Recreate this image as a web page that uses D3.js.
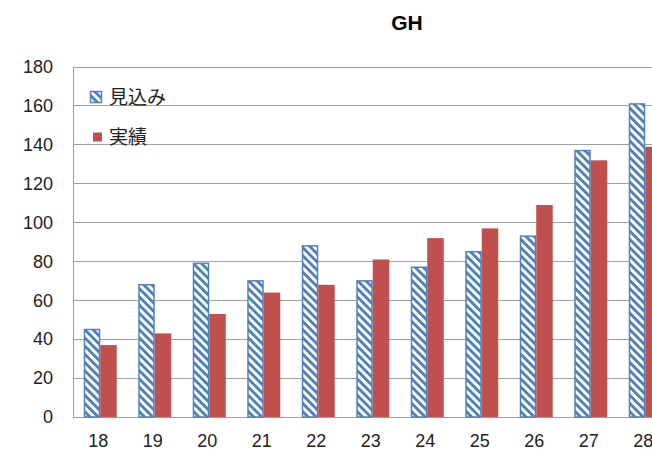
<!DOCTYPE html>
<html>
<head>
<meta charset="utf-8">
<script src="https://cdn.jsdelivr.net/npm/d3@7"></script>
<style>
  body { margin: 0; background: #fff; }
</style>
</head>
<body>
<div id="chart"></div>
<script>
const categories = ["18", "19", "20", "21", "22", "23", "24", "25", "26", "27", "28"]
const seriesNames = ["見込み", "実績"]
const mikomi = [45, 68, 79, 70, 88, 70, 77, 85, 93, 137, 161]
const jisseki = [37, 43, 53, 64, 68, 81, 92, 97, 109, 132, 139]
const yTicks = [0, 20, 40, 60, 80, 100, 120, 140, 160, 180]

const width = 652
const height = 459
const plotLeft = 73
const plotTop = 67
const plotBottom = 417
const band = 54.5

const blue = "#4F81BD"
const red = "#C0504D"

const svg = d3.select("#chart")
    .append("svg")
    .attr("width", width)
    .attr("height", height)
    .style("font-family", "'Liberation Sans', Arial, sans-serif")

// hatch for the 見込み bars (wide downward diagonal)
const hp = 5.8
const defs = svg.append("defs")
defs.append("pattern")
    .attr("id", "hatch")
    .attr("patternUnits", "userSpaceOnUse")
    .attr("width", hp)
    .attr("height", hp)
    .attr("patternTransform", "rotate(-45)")
  .call(p => {
    p.append("rect").attr("width", hp).attr("height", hp).attr("fill", "#fff")
    p.append("rect").attr("width", 2.9).attr("height", hp).attr("fill", blue)
  })

const x = d3.scaleBand()
    .domain(categories)
    .range([plotLeft, plotLeft + band * categories.length])

const x1 = d3.scaleBand()
    .domain(seriesNames)
    .range([band / 2 - 16.5, band / 2 + 16.5])

const y = d3.scaleLinear()
    .domain([0, 180])
    .range([plotBottom, plotTop])

// gridlines
svg.append("g")
    .selectAll("line")
    .data(yTicks.filter(t => t > 0))
    .join("line")
    .attr("x1", plotLeft)
    .attr("x2", width)
    .attr("y1", d => y(d))
    .attr("y2", d => y(d))
    .attr("stroke", "#a0a0a0")
    .attr("stroke-width", 1)
    .attr("shape-rendering", "crispEdges")

// y axis
const yAxis = svg.append("g")
    .attr("transform", `translate(${plotLeft},0)`)
    .call(d3.axisLeft(y).tickValues(yTicks).tickSize(0).tickPadding(20))
yAxis.select(".domain").attr("stroke", "#a0a0a0").attr("shape-rendering", "crispEdges")
yAxis.selectAll("text")
    .style("font-size", "18px")
    .attr("fill", "#222")

// x axis
const xAxis = svg.append("g")
    .attr("transform", `translate(0,${plotBottom})`)
    .call(d3.axisBottom(x).tickSize(0).tickPadding(17))
xAxis.select(".domain").attr("stroke", "#a0a0a0").attr("shape-rendering", "crispEdges")
xAxis.selectAll("text")
    .style("font-size", "18px")
    .attr("fill", "#222")
    .attr("dx", "-2")

// bars
const rows = categories.map((c, i) => ({ cat: c, values: [mikomi[i], jisseki[i]] }))

const groups = svg.append("g")
    .selectAll("g")
    .data(rows)
    .join("g")
    .attr("transform", d => `translate(${x(d.cat)},0)`)

groups.selectAll("rect")
    .data(d => d.values.map((v, i) => ({ name: seriesNames[i], v: v })))
    .join("rect")
    .attr("x", d => x1(d.name) + (d.name === "見込み" ? 0.75 : 0))
    .attr("width", d => x1.bandwidth() - (d.name === "見込み" ? 1.5 : 0))
    .attr("y", d => y(d.v))
    .attr("height", d => plotBottom - y(d.v))
    .attr("fill", d => d.name === "見込み" ? "url(#hatch)" : red)
    .attr("stroke", d => d.name === "見込み" ? blue : "none")
    .attr("stroke-width", 1.5)

// legend
const legend = svg.append("g")
const legendY = [97, 137]
seriesNames.forEach((name, i) => {
  const g = legend.append("g").attr("transform", `translate(90,${legendY[i]})`)
  if (i === 0) {
    g.append("rect").attr("x", 0.5).attr("y", -5.5).attr("width", 11).attr("height", 11)
        .attr("fill", "url(#hatch)").attr("stroke", blue).attr("stroke-width", 1.5)
  } else {
    g.append("rect").attr("x", 3).attr("y", -4.5).attr("width", 9).attr("height", 9)
        .attr("fill", red)
  }
  g.append("text")
      .attr("x", 19)
      .attr("y", 0)
      .attr("dy", "0.36em")
      .style("font-family", "'Noto Sans CJK JP', sans-serif")
      .style("font-size", "19px")
      .attr("fill", "#222")
      .text(name)
})

// title
svg.append("text")
    .attr("x", 407)
    .attr("y", 30)
    .attr("text-anchor", "middle")
    .style("font-size", "21px")
    .style("font-weight", "bold")
    .attr("fill", "#000")
    .text("GH")
</script>
</body>
</html>
